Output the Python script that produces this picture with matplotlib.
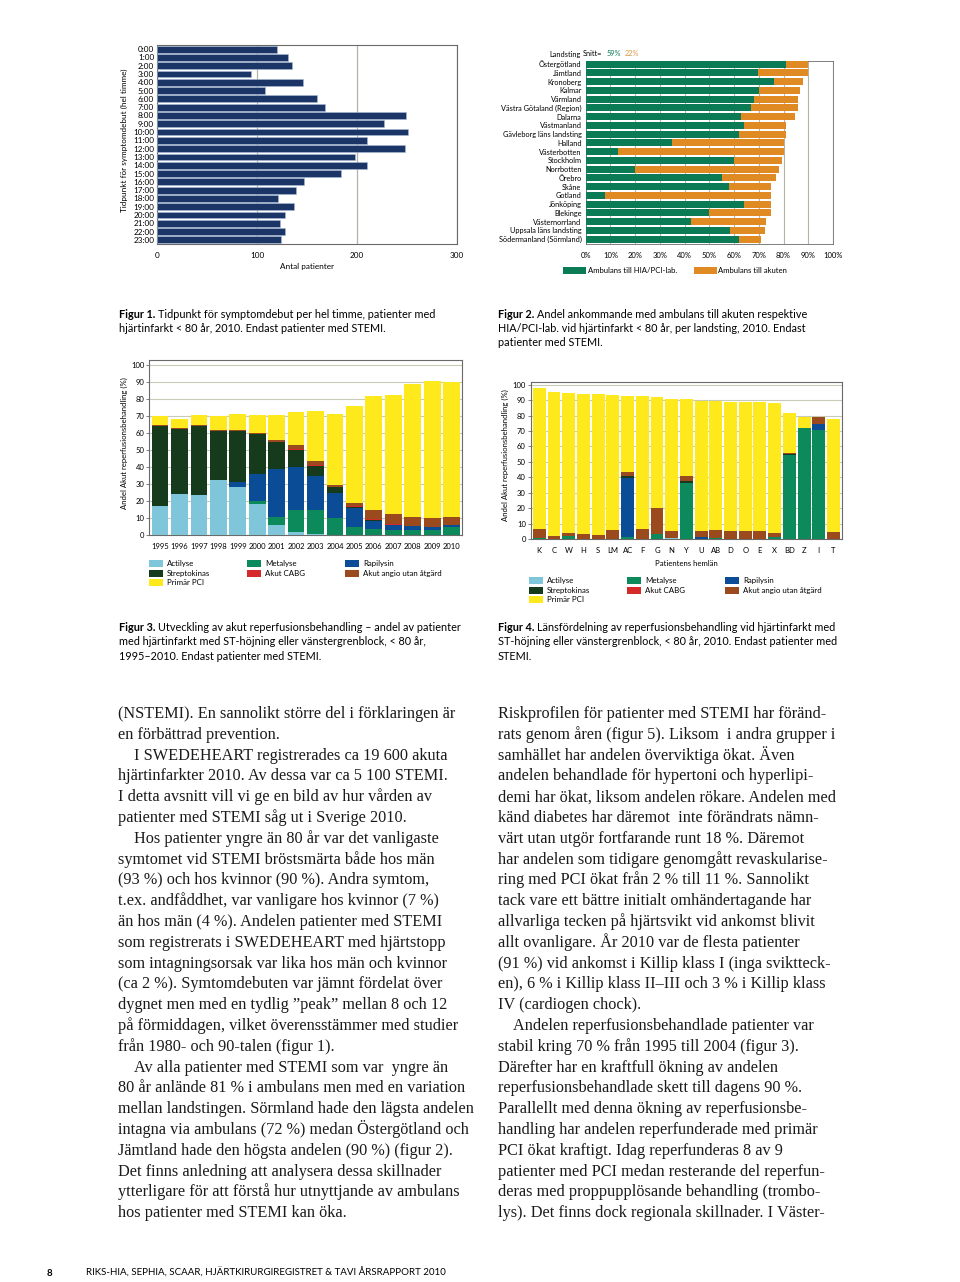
import matplotlib
matplotlib.use("Agg")
import matplotlib.pyplot as plt
from matplotlib.patches import Rectangle

W, H = 960, 1282
SANS = ["Lato", "DejaVu Sans"]
SERIF = ["Liberation Serif", "DejaVu Serif"]

# --- Figur 1: symtomdebut per timme
hours = ["0:00", "1:00", "2:00", "3:00", "4:00", "5:00", "6:00", "7:00",
         "8:00", "9:00", "10:00", "11:00", "12:00", "13:00", "14:00", "15:00",
         "16:00", "17:00", "18:00", "19:00", "20:00", "21:00", "22:00", "23:00"]
patients = [120, 131, 135, 94, 146, 108, 160, 168, 249, 227, 251, 210,
            248, 198, 210, 184, 147, 139, 121, 137, 128, 123, 128, 124]

# --- Figur 2: ambulans per landsting
landsting = ["Östergötland", "Jämtland", "Kronoberg", "Kalmar", "Värmland",
             "Västra Götaland (Region)", "Dalarna", "Västmanland",
             "Gävleborg läns landsting", "Halland", "Västerbotten", "Stockholm",
             "Norrbotten", "Örebro", "Skåne", "Gotland", "Jönköping", "Blekinge",
             "Västernorrland", "Uppsala läns landsting", "Södermanland (Sörmland)"]
hia_pci = [81, 69.5, 76, 70, 68, 67, 63, 64, 62, 35, 13, 60, 20, 55, 58, 8,
           64, 50, 42.5, 58.5, 62]
akuten = [9, 20.5, 12, 16.5, 18, 19, 21.5, 17, 19, 45, 67, 19.5, 58, 22, 17,
          67, 11, 25, 30.5, 14, 9]
xticks2 = ["0%", "10%", "20%", "30%", "40%", "50%", "60%", "70%", "80%", "90%", "100%"]

# --- Figur 3: utveckling 1995-2010
years = ["1995", "1996", "1997", "1998", "1999", "2000", "2001", "2002",
         "2003", "2004", "2005", "2006", "2007", "2008", "2009", "2010"]
actilyse3 = [17, 24, 23.5, 32.4, 28.4, 18, 6, 2, 0.4, 0, 0, 0, 0, 0, 0, 0]
metalyse3 = [0, 0, 0, 0, 0, 2, 4.4, 13, 14.6, 9.8, 4.5, 3.7, 3, 3, 3, 5]
rapilysin3 = [0, 0, 0, 0, 2.8, 16, 28.6, 25.2, 20, 15.2, 11.5, 4.7, 2.9, 2.3, 1.7, 0.7]
strepto3 = [47, 38.4, 40.5, 28.6, 29.8, 23.2, 15.5, 10, 5.6, 3, 0.5, 0.6, 0.2, 0, 0, 0]
cabg3 = [0.2, 0.2, 0.2, 0.2, 0.2, 0.2, 0.3, 0.4, 0.4, 0.3, 0.3, 0.3, 0.3, 0.2, 0.2, 0.2]
angio3 = [0.5, 0.4, 0.8, 0.8, 0.5, 0.6, 1.2, 2.6, 2.5, 0.9, 2.2, 5.2, 5.8, 4.9, 4.9, 4.5]
pci3 = [5.3, 5.2, 5.6, 7.8, 9.5, 10.6, 14.4, 19.2, 29.5, 41.8, 56.7, 67.5, 70.3, 78.4, 81, 79.4]

# --- Figur 4: per län 2010
lan = ["K", "C", "W", "H", "S", "LM", "AC", "F", "G", "N", "Y", "U", "AB",
       "D", "O", "E", "X", "BD", "Z", "I", "T"]
actilyse4 = [0, 0, 0, 0, 0, 0, 0, 0, 0, 0.8, 0, 0, 0, 0, 0, 0, 0, 0, 0, 0, 0]
metalyse4 = [0.5, 0, 2, 0, 0, 0, 1.5, 0, 3, 0, 36.4, 0, 0.5, 0, 0, 0, 1, 54.3, 71.9, 70.8, 0]
rapilysin4 = [0, 0, 0, 0, 0, 0, 37.9, 0, 0, 0, 0, 1, 0, 0, 0, 0, 0, 0, 0, 3.7, 0]
strepto4 = [0, 0, 0, 0, 0, 0, 1.5, 0, 0, 0, 1.5, 0, 0, 0, 0, 0, 0, 0.9, 0.4, 0, 0]
cabg4 = [0, 0, 0, 0, 0, 0, 0, 0, 0, 0, 0, 0, 0, 0, 0, 0, 0, 0, 0, 0, 0]
angio4 = [6.2, 2.2, 1.9, 3.5, 2.8, 5.6, 2.6, 6.5, 17.3, 4.2, 3, 4.4, 5.1, 5, 5,
          5.4, 2.9, 0.6, 0, 4.3, 4.3]
pci4 = [91.1, 92.8, 90.7, 90.7, 90.9, 87.5, 49.5, 86.5, 71.9, 85.7, 49.8, 83.8,
        83.6, 84, 84, 83.3, 84, 25.8, 7.1, 0, 73.8]

NAVY = "#1b3566"
GREEN2 = "#0b7b55"
ORANGE2 = "#e08a23"
GRID = "#b4b4a6"
FRAME = "#6a6a6a"
treat_names = ["Actilyse", "Metalyse", "Rapilysin", "Streptokinas",
               "Akut CABG", "Akut angio utan åtgärd", "Primär PCI"]
treat_colors = ["#7fc6db", "#0d8a5c", "#0b4c96", "#163a1c",
                "#d42a2a", "#9a4a1c", "#fde91c"]

plt.rcParams['font.family'] = SANS
fig = plt.figure(figsize=(W / 100, H / 100), dpi=100)
fig.patch.set_facecolor("white")


def px_axes(x0, y0, x1, y1):
    return fig.add_axes([x0 / W, 1 - y1 / H, (x1 - x0) / W, (y1 - y0) / H])


def ftext(x, y, s, **kw):
    return fig.text(x / W, 1 - y / H, s, **kw)


def frame(ax, color=FRAME, lw=0.8):
    for sp in ax.spines.values():
        sp.set_color(color)
        sp.set_linewidth(lw)


def patch(x, y, w, h, color):
    fig.patches.append(Rectangle((x / W, 1 - (y + h) / H), w / W, h / H,
                                 transform=fig.transFigure, facecolor=color,
                                 edgecolor="none"))


# ---------------- Figur 1
ax1 = px_axes(157, 45, 457, 244)
ax1.barh(range(24), patients, height=0.82, color=NAVY, edgecolor="#a9bbd6",
         linewidth=0.4, zorder=3)
ax1.set_xlim(0, 300)
ax1.set_ylim(23.5, -0.5)
ax1.set_yticks(range(24))
ax1.set_yticklabels(hours, fontsize=5.9)
ax1.set_xticks([0, 100, 200, 300])
ax1.tick_params(axis="both", length=0, labelsize=5.9)
ax1.tick_params(axis="x", pad=6)
ax1.tick_params(axis="y", pad=2)
ax1.grid(axis="x", color=GRID, lw=0.9)
ax1.set_axisbelow(True)
frame(ax1)
ax1.set_xlabel("Antal patienter", fontsize=5.9, labelpad=3)
ftext(124, 140, "Tidpunkt för symptomdebut (hel timme)", rotation=90,
      fontsize=5.9, ha="center", va="center")

# ---------------- Figur 2
ax2 = px_axes(585.7, 60.7, 833, 244)
idx = range(len(landsting))
ax2.barh(idx, hia_pci, height=0.8, color=GREEN2, zorder=3)
ax2.barh(idx, akuten, left=hia_pci, height=0.8, color=ORANGE2, zorder=3)
ax2.set_xlim(0, 100)
ax2.set_ylim(20.57, -0.38)
ax2.set_yticks(list(idx))
ax2.set_yticklabels(landsting, fontsize=5.3)
ax2.set_xticks(range(0, 101, 10))
ax2.set_xticklabels(xticks2, fontsize=5.5)
ax2.tick_params(axis="both", length=0)
ax2.tick_params(axis="x", pad=6)
ax2.tick_params(axis="y", pad=3)
ax2.grid(axis="x", color=GRID, lw=0.8)
ax2.set_axisbelow(True)
frame(ax2, lw=0.6)
ftext(581, 54, "Landsting", fontsize=5.3, ha="right", va="center")
ftext(582.5, 54, "Snitt=", fontsize=5.3, ha="left", va="center")
ftext(607, 54, "59%", fontsize=5.3, ha="left", va="center", color=GREEN2)
ftext(624.5, 54, "22%", fontsize=5.3, ha="left", va="center", color="#d99a45")
patch(563, 266.7, 23, 7, GREEN2)
ftext(587.5, 270.5, "Ambulans till HIA/PCI-lab.", fontsize=5.6, va="center")
patch(693.5, 266.7, 23.5, 7, ORANGE2)
ftext(718, 270.5, "Ambulans till akuten", fontsize=5.6, va="center")


def stacked(ax, labels, series, width):
    x = range(len(labels))
    bottom = [0.0] * len(labels)
    for vals, col in zip(series, treat_colors):
        ax.bar(x, vals, width=width, bottom=bottom, color=col, zorder=3)
        bottom = [b + v for b, v in zip(bottom, vals)]
    ax.set_xticks(list(x))
    ax.set_xticklabels(labels)
    ax.set_yticks(range(0, 101, 10))
    ax.grid(axis="y", color="#c9c9b8", lw=0.8)
    ax.set_axisbelow(True)
    ax.tick_params(axis="x", length=0, pad=6, labelsize=5.5)
    ax.tick_params(axis="y", length=2, width=0.6, color=FRAME, pad=1.5, labelsize=5.5)
    frame(ax)


def treat_legend(x1, x2, x3, y0, dy):
    cols = [(x1, 0), (x1, 1), (x1, 2), (x2, 0), (x2, 1), (x3, 0), (x3, 1)]
    order = [0, 3, 6, 1, 4, 2, 5]
    for (cx, row), k in zip(cols, order):
        yy = y0 + row * dy
        patch(cx, yy - 3.5, 14, 7, treat_colors[k])
        ftext(cx + 18, yy, treat_names[k], fontsize=5.7, va="center")


# ---------------- Figur 3
ax3 = px_axes(149.3, 360, 461.7, 535)
stacked(ax3, years, [actilyse3, metalyse3, rapilysin3, strepto3, cabg3, angio3, pci3], 0.86)
ax3.set_xlim(-0.55, 15.52)
ax3.set_ylim(0, 103)
ftext(124, 443, "Andel Akut reperfusionsbehandling (%)", rotation=90,
      fontsize=5.6, ha="center", va="center")
treat_legend(149, 247, 345, 563.5, 9.6)

# ---------------- Figur 4
ax4 = px_axes(530.7, 381.7, 842.3, 539)
stacked(ax4, lan, [actilyse4, metalyse4, rapilysin4, strepto4, cabg4, angio4, pci4], 0.88)
ax4.set_xlim(-0.585, 20.6)
ax4.set_ylim(0, 102)
ax4.set_xlabel("Patientens hemlän", fontsize=5.6, labelpad=4)
ftext(505, 455, "Andel Akut reperfusionsbehandling (%)", rotation=90,
      fontsize=5.6, ha="center", va="center")
treat_legend(529, 627, 725, 580.5, 9.6)

# ---------------- Figurtexter
renderer = fig.canvas.get_renderer()


def caption(x, y, num, lines, size=7.85, dy=14.3):
    t = ftext(x, y, f"Figur {num}.", fontsize=size, fontweight="bold", va="baseline")
    bb = t.get_window_extent(renderer)
    ftext(bb.x1 + 2.5, y, lines[0], fontsize=size, va="baseline")
    for i, s in enumerate(lines[1:], start=1):
        ftext(x, y + i * dy, s, fontsize=size, va="baseline")


caption(119, 317.5, 1, ["Tidpunkt för symptomdebut per hel timme, patienter med",
                        "hjärtinfarkt < 80 år, 2010. Endast patienter med STEMI."])
caption(498, 317.5, 2, ["Andel ankommande med ambulans till akuten respektive",
                        "HIA/PCI-lab. vid hjärtinfarkt < 80 år, per landsting, 2010. Endast",
                        "patienter med STEMI."])
caption(119, 631, 3, ["Utveckling av akut reperfusionsbehandling – andel av patienter",
                      "med hjärtinfarkt med ST-höjning eller vänstergrenblock, < 80 år,",
                      "1995–2010. Endast patienter med STEMI."])
caption(498, 631, 4, ["Länsfördelning av reperfusionsbehandling vid hjärtinfarkt med",
                      "ST-höjning eller vänstergrenblock, < 80 år, 2010. Endast patienter med",
                      "STEMI."])

# ---------------- Brödtext
left_lines = [
    (0, "(NSTEMI). En sannolikt större del i förklaringen är"),
    (0, "en förbättrad prevention."),
    (1, "I SWEDEHEART registrerades ca 19 600 akuta"),
    (0, "hjärtinfarkter 2010. Av dessa var ca 5 100 STEMI."),
    (0, "I detta avsnitt vill vi ge en bild av hur vården av"),
    (0, "patienter med STEMI såg ut i Sverige 2010."),
    (1, "Hos patienter yngre än 80 år var det vanligaste"),
    (0, "symtomet vid STEMI bröstsmärta både hos män"),
    (0, "(93 %) och hos kvinnor (90 %). Andra symtom,"),
    (0, "t.ex. andfåddhet, var vanligare hos kvinnor (7 %)"),
    (0, "än hos män (4 %). Andelen patienter med STEMI"),
    (0, "som registrerats i SWEDEHEART med hjärtstopp"),
    (0, "som intagningsorsak var lika hos män och kvinnor"),
    (0, "(ca 2 %). Symtomdebuten var jämnt fördelat över"),
    (0, "dygnet men med en tydlig ”peak” mellan 8 och 12"),
    (0, "på förmiddagen, vilket överensstämmer med studier"),
    (0, "från 1980- och 90-talen (figur 1)."),
    (1, "Av alla patienter med STEMI som var  yngre än"),
    (0, "80 år anlände 81 % i ambulans men med en variation"),
    (0, "mellan landstingen. Sörmland hade den lägsta andelen"),
    (0, "intagna via ambulans (72 %) medan Östergötland och"),
    (0, "Jämtland hade den högsta andelen (90 %) (figur 2)."),
    (0, "Det finns anledning att analysera dessa skillnader"),
    (0, "ytterligare för att förstå hur utnyttjande av ambulans"),
    (0, "hos patienter med STEMI kan öka."),
]
right_lines = [
    (0, "Riskprofilen för patienter med STEMI har föränd-"),
    (0, "rats genom åren (figur 5). Liksom  i andra grupper i"),
    (0, "samhället har andelen överviktiga ökat. Även"),
    (0, "andelen behandlade för hypertoni och hyperlipi-"),
    (0, "demi har ökat, liksom andelen rökare. Andelen med"),
    (0, "känd diabetes har däremot  inte förändrats nämn-"),
    (0, "värt utan utgör fortfarande runt 18 %. Däremot"),
    (0, "har andelen som tidigare genomgått revaskularise-"),
    (0, "ring med PCI ökat från 2 % till 11 %. Sannolikt"),
    (0, "tack vare ett bättre initialt omhändertagande har"),
    (0, "allvarliga tecken på hjärtsvikt vid ankomst blivit"),
    (0, "allt ovanligare. År 2010 var de flesta patienter"),
    (0, "(91 %) vid ankomst i Killip klass I (inga sviktteck-"),
    (0, "en), 6 % i Killip klass II–III och 3 % i Killip klass"),
    (0, "IV (cardiogen chock)."),
    (1, "Andelen reperfusionsbehandlade patienter var"),
    (0, "stabil kring 70 % från 1995 till 2004 (figur 3)."),
    (0, "Därefter har en kraftfull ökning av andelen"),
    (0, "reperfusionsbehandlade skett till dagens 90 %."),
    (0, "Parallellt med denna ökning av reperfusionsbe-"),
    (0, "handling har andelen reperfunderade med primär"),
    (0, "PCI ökat kraftigt. Idag reperfunderas 8 av 9"),
    (0, "patienter med PCI medan resterande del reperfun-"),
    (0, "deras med proppupplösande behandling (trombo-"),
    (0, "lys). Det finns dock regionala skillnader. I Väster-"),
]
for col_x, lines in ((118.5, left_lines), (498.3, right_lines)):
    for i, (ind, s) in enumerate(lines):
        ftext(col_x + 15 * ind, 718 + 20.8 * i, s, fontsize=11.7,
              family=SERIF, va="baseline", color="#1a1a1a")

# ---------------- Sidfot
ftext(47, 1276, "8", fontsize=7, fontweight="bold", va="baseline")
ftext(86, 1276, "RIKS-HIA, SEPHIA, SCAAR, HJÄRTKIRURGIREGISTRET & TAVI ÅRSRAPPORT 2010",
      fontsize=7, va="baseline")

fig.savefig("out.png", dpi=100, facecolor="white")
